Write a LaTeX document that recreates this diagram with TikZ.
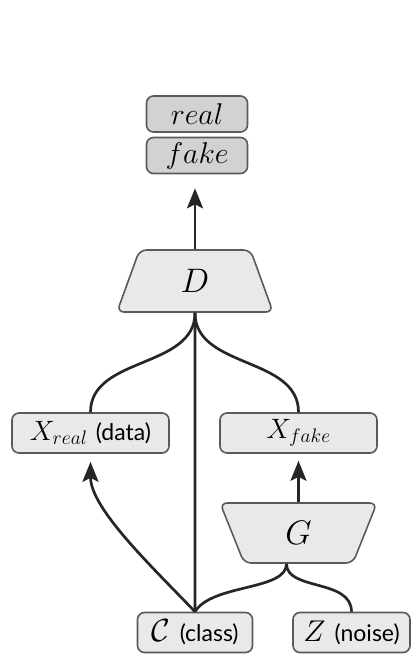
\RequirePackage{fix-cm}
\documentclass[tikz,border=0pt]{standalone}
\usepackage{fontspec}
\newfontfamily\labelsans{Lato}
\usetikzlibrary{shapes.geometric,arrows.meta}
\definecolor{boxfill}{HTML}{E9E9EC}
\definecolor{outfill}{HTML}{D2D2D2}
\definecolor{boxline}{HTML}{5A5A5A}
\definecolor{wire}{HTML}{262626}
\newcommand{\tagtext}[1]{{\labelsans\fontsize{23}{27}\selectfont #1}}
\begin{document}
\begin{tikzpicture}[x=1pt,y=-1pt,
  box/.style={draw=boxline, line width=1.6pt, rounded corners=7pt, fill=boxfill,
    inner sep=0pt, minimum height=40pt, font=\fontsize{28}{32}\selectfont},
  outbox/.style={box, fill=outfill, minimum width=101pt, minimum height=36pt,
    font=\fontsize{30}{34}\selectfont},
  net/.style={trapezium, trapezium stretches=true, draw=boxline, line width=1.6pt,
    rounded corners=7pt, fill=boxfill, inner sep=0pt,
    trapezium left angle=76, trapezium right angle=76,
    font=\fontsize{34}{40}\selectfont},
  link/.style={draw=wire, line width=2.7pt},
  flow/.style={link, -{Stealth[length=20pt,width=16pt,inset=4pt]}},
]
\path[use as bounding box] (0,0) rectangle (413,654);

% discriminator output labels
\node[outbox] (real) at (197,114) {$real$};
\node[outbox] (fake) at (197,155.5) {$fake$};

% discriminator and generator
\node[net, minimum width=156pt, minimum height=62pt] (D) at (195,281) {$D$};
\node[net, shape border rotate=180, minimum width=157pt, minimum height=60pt] (G) at (298.5,533) {$G$};

% samples
\node[box, minimum width=157pt] (xr) at (90.5,433) {$X_{real}$ \tagtext{(data)}};
\node[box, minimum width=157pt] (xf) at (298.5,433) {$X_{fake}$};

% inputs
\node[box, minimum width=115pt, font=\fontsize{32}{36}\selectfont] (c) at (195,632.5) {$\mathcal{C}$ \tagtext{(class)}};
\node[box, minimum width=117pt, font=\fontsize{30}{34}\selectfont] (z) at (351.5,632.5) {$Z$ \tagtext{(noise)}};

\coordinate (gin) at ([xshift=-12pt]G.south);

% discriminator to decision
\draw[flow, shorten >=14pt] (D.north) -- (D.north |- fake.south);

% samples and class into the discriminator
\draw[link] (D.south) .. controls +(0,56) and +(0,-56) .. (xr.north);
\draw[link] (D.south) .. controls +(0,56) and +(0,-56) .. (xf.north);
\draw[link] (D.south) -- (c.north);

% class conditions the real data and the generator
\draw[flow, shorten >=8pt] (c.north) .. controls +(-42,-44) and +(0,55) .. (xr.south);
\draw[link] (c.north) .. controls +(17,-28) and +(0,27) .. (gin);
\draw[link] (z.north) .. controls +(0,-33) and +(0,27) .. (gin);

% generator output
\draw[flow, shorten >=7pt] (G.north) -- (xf.south);
\end{tikzpicture}
\end{document}
